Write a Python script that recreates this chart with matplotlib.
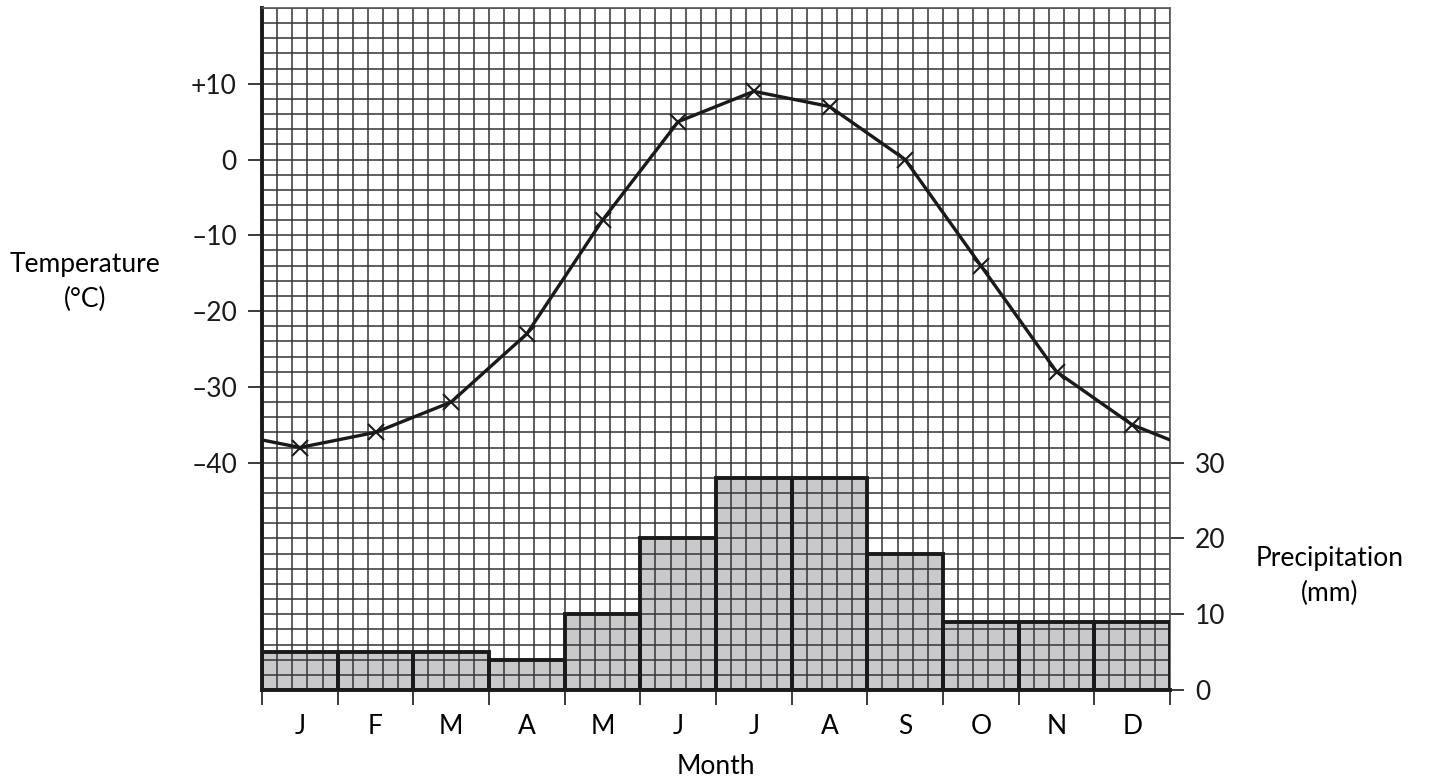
import matplotlib.pyplot as plt
import numpy as np

plt.rcParams['font.family'] = ['Lato', 'DejaVu Sans']

# data
months = ['J', 'F', 'M', 'A', 'M', 'J', 'J', 'A', 'S', 'O', 'N', 'D']
temp = np.array([-38, -36, -32, -23, -8, 5, 9, 7, 0, -14, -28, -35])
temp_edge = -37  # where the curve meets the left/right frame
precip = np.array([5, 5, 5, 4, 10, 20, 28, 28, 18, 9, 9, 9])

temp_ticks = [10, 0, -10, -20, -30, -40]
temp_labels = ['+10', '0', '\u201310', '\u201320', '\u201330', '\u201340']
precip_ticks = [0, 10, 20, 30]

fs = 19

fig = plt.figure(figsize=(14.29, 7.82), dpi=100)
ax_p = fig.add_axes([262/1429, 92/782, 908/1429, 682/782])
ax_t = ax_p.twinx()

x = np.arange(len(months)) + 0.5

# bars (precipitation)
ax_p.bar(x, precip, width=1.0, color='#c9c9cb', edgecolor='none', zorder=1)
ax_p.bar(x, precip, width=1.0, fill=False, edgecolor='#1a1a1a', linewidth=2.8, zorder=3)
ax_p.set_xlim(0, 12)
ax_p.set_ylim(0, 90)

# graph-paper grid, 2 units per square
for gx in np.arange(0, 12.01, 0.2):
    ax_p.axvline(gx, color='#333333', linewidth=1.1, zorder=2)
for gy in np.arange(0, 90.01, 2):
    ax_p.axhline(gy, color='#333333', linewidth=1.1, zorder=2)

# temperature line
xt = np.concatenate([[0], x, [12]])
yt = np.concatenate([[temp_edge], temp, [temp_edge]])
ax_t.plot(xt, yt, color='#1a1a1a', linewidth=2.4, zorder=4)
ax_t.plot(x, temp, linestyle='none', marker='x', color='#1a1a1a',
          markersize=11, markeredgewidth=1.5, zorder=5)
ax_t.set_ylim(-70, 20)

# axes: temperature on left, precipitation on right
ax_t.yaxis.tick_left()
ax_t.set_yticks(temp_ticks)
ax_t.set_yticklabels(temp_labels, fontsize=fs)
ax_t.tick_params(axis='y', length=10, width=1.2, pad=8, colors='#1a1a1a')
ax_p.yaxis.tick_right()
ax_p.set_yticks(precip_ticks)
ax_p.set_yticklabels([str(v) for v in precip_ticks], fontsize=fs)
ax_p.tick_params(axis='y', length=10, width=1.2, pad=8, colors='#1a1a1a')

ax_p.set_xticks(range(13))
ax_p.set_xticklabels([''] * 13)
ax_p.set_xticks(x, minor=True)
ax_p.set_xticklabels(months, minor=True, fontsize=fs)
ax_p.tick_params(axis='x', which='major', length=11, width=1.2, color='#1a1a1a')
ax_p.tick_params(axis='x', which='minor', length=0, pad=17)

for s in ax_t.spines.values():
    s.set_visible(False)
ax_p.spines['left'].set_linewidth(2.8)
ax_p.spines['left'].set_color('#1a1a1a')
ax_p.spines['bottom'].set_linewidth(2.8)
ax_p.spines['bottom'].set_color('#1a1a1a')
for side in ['top', 'right']:
    ax_p.spines[side].set_color('#555555')
    ax_p.spines[side].set_linewidth(1.2)

fig.text(85/1429, 1 - 282/782, 'Temperature\n(\u00b0C)', ha='center', va='center',
         fontsize=fs, linespacing=1.45)
fig.text(1330/1429, 1 - 576/782, 'Precipitation\n(mm)', ha='center', va='center',
         fontsize=fs, linespacing=1.45)
fig.text(716/1429, 1 - 766/782, 'Month', ha='center', va='center', fontsize=fs)

fig.savefig('out.png', dpi=100)
